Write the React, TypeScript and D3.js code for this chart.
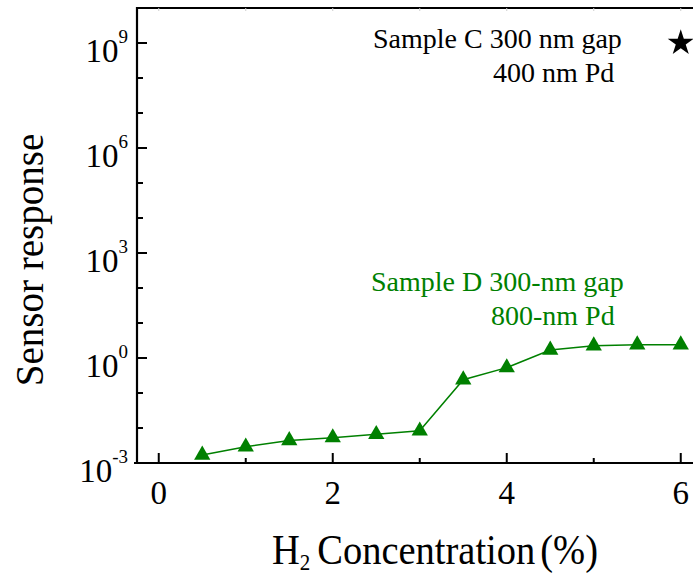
import React, { useEffect, useRef } from "react";
import * as d3 from "d3";

// H2 concentration (%) for sample D
const concentration = [0.5, 1, 1.5, 2, 2.5, 3, 3.5, 4, 4.5, 5, 5.5, 6];
// sensor response for sample D
const responseD = [1.7e-3, 2.9e-3, 4.4e-3, 5.3e-3, 6.6e-3, 8.3e-3, 0.24, 0.53, 1.7, 2.25, 2.4, 2.4];
// sample C single point
const concentrationC = [6];
const responseC = [1e9];

const xMajorTicks = [0, 2, 4, 6];
const xMinorTicks = [1, 3, 5];
const xTopTicks = [0, 1, 2, 3, 4, 5, 6];
const yMajorExp = [-3, 0, 3, 6, 9];
const yMinorExp = [-2, -1, 1, 2, 4, 5, 7, 8];

const W = 693;
const H = 576;
const FONT = "'Liberation Serif', 'Times New Roman', serif";
const GREEN = "#008000";

const App = () => {
  const svgRef = useRef<SVGSVGElement>(null);

  useEffect(() => {
    const svg = d3.select(svgRef.current);
    svg.selectAll("*").remove();

    const left = 137;
    const top = 8;
    const bottom = 463;

    const x = d3.scaleLinear().domain([-0.25, 6.25]).range([left, 702.5]);
    const y = d3.scaleLog().domain([1e-3, 1e10]).range([bottom, top]);

    // frame
    const frame = svg.append("g").attr("stroke", "#000").attr("stroke-width", 2.2);
    frame.append("line").attr("x1", left).attr("x2", W).attr("y1", top).attr("y2", top);
    frame.append("line").attr("x1", left).attr("x2", left).attr("y1", top - 1).attr("y2", bottom + 1);
    frame.append("line").attr("x1", left - 3).attr("x2", W).attr("y1", bottom).attr("y2", bottom);

    // x ticks (inward)
    svg.append("g")
      .selectAll("line")
      .data(xMajorTicks)
      .join("line")
      .attr("x1", (d) => x(d))
      .attr("x2", (d) => x(d))
      .attr("y1", bottom)
      .attr("y2", bottom - 10)
      .attr("stroke", "#000")
      .attr("stroke-width", 2);
    svg.append("g")
      .selectAll("line")
      .data(xMinorTicks)
      .join("line")
      .attr("x1", (d) => x(d))
      .attr("x2", (d) => x(d))
      .attr("y1", bottom)
      .attr("y2", bottom - 5)
      .attr("stroke", "#000")
      .attr("stroke-width", 2);
    svg.append("g")
      .selectAll("line")
      .data(xTopTicks)
      .join("line")
      .attr("x1", (d) => x(d))
      .attr("x2", (d) => x(d))
      .attr("y1", top)
      .attr("y2", top + 3)
      .attr("stroke", "#ccc")
      .attr("stroke-width", 1);

    // y ticks (inward)
    svg.append("g")
      .selectAll("line")
      .data(yMajorExp)
      .join("line")
      .attr("x1", left)
      .attr("x2", left + 10)
      .attr("y1", (d) => y(Math.pow(10, d)))
      .attr("y2", (d) => y(Math.pow(10, d)))
      .attr("stroke", "#000")
      .attr("stroke-width", 2);
    svg.append("g")
      .selectAll("line")
      .data(yMinorExp)
      .join("line")
      .attr("x1", left)
      .attr("x2", left + 6)
      .attr("y1", (d) => y(Math.pow(10, d)))
      .attr("y2", (d) => y(Math.pow(10, d)))
      .attr("stroke", "#000")
      .attr("stroke-width", 2);

    // y tick labels
    const yl = svg.append("g").attr("font-family", FONT).attr("fill", "#000");
    yMajorExp.forEach((e) => {
      const t = yl.append("text")
        .attr("x", 128)
        .attr("y", y(Math.pow(10, e)) + 19)
        .attr("text-anchor", "end");
      t.append("tspan").attr("font-size", 33).text("10");
      t.append("tspan").attr("font-size", 19).attr("dy", -19).text(String(e));
    });

    // x tick labels
    svg.append("g")
      .selectAll("text")
      .data(xMajorTicks)
      .join("text")
      .attr("x", (d) => x(d))
      .attr("y", 504)
      .attr("text-anchor", "middle")
      .attr("font-family", FONT)
      .attr("font-size", 33)
      .text((d) => d);

    // axis titles
    const xt = svg.append("text")
      .attr("transform", "translate(272,564) scale(1,1.08)")
      .attr("font-family", FONT)
      .attr("font-size", 38.5);
    xt.append("tspan").text("H");
    xt.append("tspan").attr("font-size", 21).attr("dy", 6).text("2");
    xt.append("tspan").attr("dy", -6).attr("dx", 7).text("Concentration");
    xt.append("tspan").attr("dx", 5).text("(%)");

    svg.append("text")
      .attr("transform", "translate(43,260) rotate(-90)")
      .attr("text-anchor", "middle")
      .attr("font-family", FONT)
      .attr("font-size", 39)
      .text("Sensor response");

    // sample D line + markers
    const dataD = concentration.map((c, i) => ({ x: c, y: responseD[i] }));
    const line = d3.line<{ x: number; y: number }>().x((d) => x(d.x)).y((d) => y(d.y));
    svg.append("path")
      .datum(dataD)
      .attr("d", line)
      .attr("fill", "none")
      .attr("stroke", GREEN)
      .attr("stroke-width", 1.5);
    svg.append("g")
      .selectAll("path")
      .data(dataD)
      .join("path")
      .attr("transform", (d) => `translate(${x(d.x)},${y(d.y)})`)
      .attr("d", d3.symbol().type(d3.symbolTriangle).size(115)())
      .attr("fill", GREEN);

    // sample C star
    const dataC = concentrationC.map((c, i) => ({ x: c, y: responseC[i] }));
    svg.append("g")
      .selectAll("path")
      .data(dataC)
      .join("path")
      .attr("transform", (d) => `translate(${x(d.x)},${y(d.y)})`)
      .attr("d", d3.symbol().type(d3.symbolStar).size(210)())
      .attr("fill", "#000");

    // annotations
    const ann = svg.append("g").attr("font-family", FONT).attr("font-size", 28);
    ann.append("text").attr("x", 373).attr("y", 48).attr("fill", "#000").text("Sample C 300 nm gap");
    ann.append("text").attr("x", 493).attr("y", 82).attr("fill", "#000").text("400 nm Pd");
    ann.append("text").attr("x", 371).attr("y", 291).attr("fill", GREEN).text("Sample D 300-nm gap");
    ann.append("text").attr("x", 491).attr("y", 325).attr("fill", GREEN).text("800-nm Pd");
  }, []);

  return (
    <svg
      ref={svgRef}
      width={W}
      height={H}
      style={{ position: "absolute", left: 0, top: 0, background: "#fff" }}
    ></svg>
  );
};

export default App;
